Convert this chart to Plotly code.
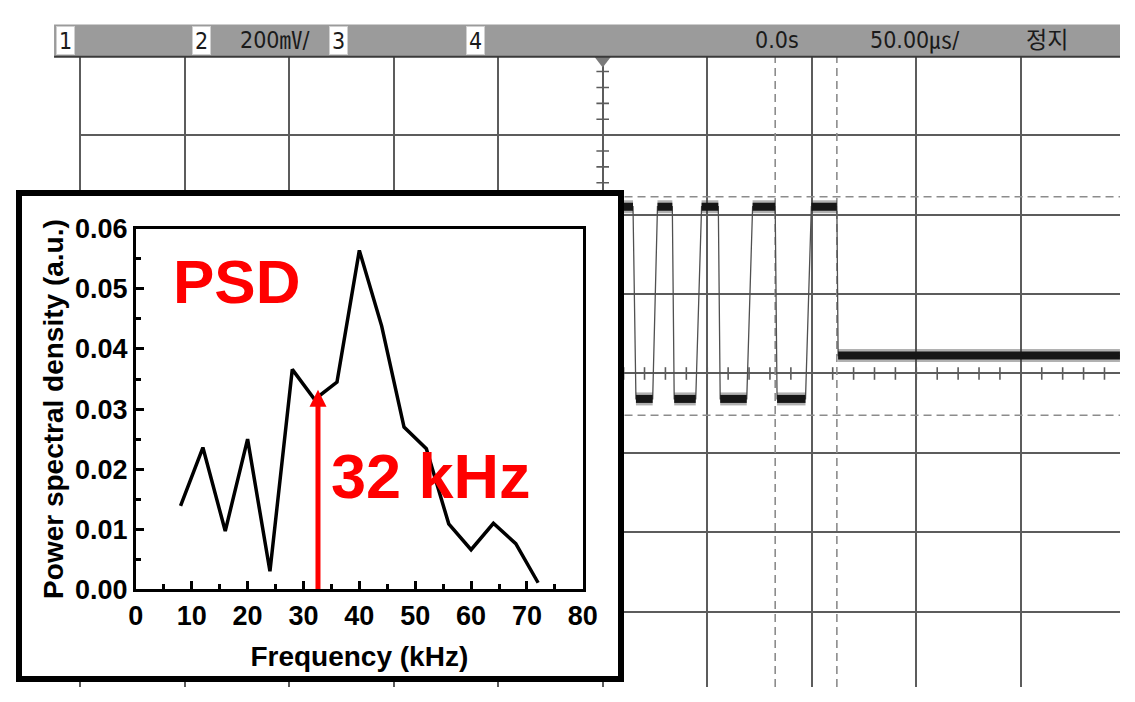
import numpy as np
import plotly.graph_objects as go

W, H = 1135, 702

# ------------------------------------------------------------------ data
# PSD inset
psd_freq_khz = [8, 12, 16, 20, 24, 28, 32, 36, 40, 44, 48, 52, 56, 60, 64, 68, 72]
psd_value = [0.0139, 0.0236, 0.0097, 0.0250, 0.0030, 0.0366, 0.0316, 0.0345,
             0.0564, 0.0438, 0.0270, 0.0234, 0.0109, 0.0066, 0.0110, 0.0076, 0.0011]
peak_freq_khz = 32.6
peak_arrow_top = 0.0332
psd_label = "PSD"
peak_label = "32 kHz"
freq_ticks = [0, 10, 20, 30, 40, 50, 60, 70, 80]
psd_ticks = [0.00, 0.01, 0.02, 0.03, 0.04, 0.05, 0.06]
freq_title = "Frequency (kHz)"
psd_title = "Power spectral density (a.u.)"

# Oscilloscope trace: time from trigger (µs), level (mV)
wave_time_us = [9.0, 14.5, 15.9, 23.9, 26.2, 33.3, 34.2, 44.5, 47.3, 55.3, 56.2,
                68.9, 71.7, 82.5, 83.4, 97.0, 99.8, 112.0, 112.6, 247.4]
wave_level_mv = [420, 420, -64, -64, 420, 420, -64, -64, 420, 420, -64,
                 -64, 420, 420, -64, -64, 420, 420, 45, 45]
cursor_time_us = [82.5, 112.0]
cursor_level_mv = [445, -105]
trigger_time_us = 0.0

header_channels = ["1", "2", "3", "4"]
volt_scale_text = "200㎷/"
time_offset_text = "0.0s"
time_scale_text = "50.00㎲/"
run_state_text = "정지"

# ------------------------------------------------------------------ geometry helpers
def fx(px):
    return px / W


def fy(py):
    return 1 - py / H


US_PER_DIV, MV_PER_DIV = 50.0, 200.0
PX_DIV_X, PX_DIV_Y = 106.7, 83.0
CX, CY = 607.0, 374.5
SCOPE_LEFT_PX, SCOPE_TOP_PX = 72.0, 42.5
t_left = (SCOPE_LEFT_PX - CX) / PX_DIV_X * US_PER_DIV
t_right = (W - CX) / PX_DIV_X * US_PER_DIV
mv_top = (CY - SCOPE_TOP_PX) / PX_DIV_Y * MV_PER_DIV
mv_bottom = (CY - H) / PX_DIV_Y * MV_PER_DIV
mv_per_px = MV_PER_DIV / PX_DIV_Y

GRID = "#5c5c5c"
CURSOR = "#8c8c8c"
RED = "#ff0000"
FONT = "Liberation Sans, Arial, sans-serif"
SCOPE_FONT = "Liberation Sans Narrow, DejaVu Sans Condensed, Noto Sans CJK KR, sans-serif"

fig = go.Figure()

# ------------------------------------------------------------------ scope (x / y)
sc = dict(xaxis="x", yaxis="y", hoverinfo="skip", showlegend=False)

vx, vy = [], []
for t in cursor_time_us:
    vx += [t, t, None]
    vy += [mv_bottom, mv_top, None]
hx, hy = [], []
for v in cursor_level_mv:
    hx += [t_left, t_right, None]
    hy += [v, v, None]
fig.add_trace(go.Scatter(x=vx + hx, y=vy + hy, mode="lines",
                         line=dict(color=CURSOR, width=1.6, dash="8px,5px"), **sc))

# graticule minor ticks on the centre axes (every 1/5 division)
tick_t = np.arange(-250, t_right, US_PER_DIV / 5)
tick_v = np.arange(-MV_PER_DIV * 4 + MV_PER_DIV / 5, mv_top, MV_PER_DIV / 5)
fig.add_trace(go.Scatter(x=tick_t, y=np.zeros_like(tick_t), mode="markers",
                         marker=dict(symbol="line-ns", size=9,
                                     line=dict(color=GRID, width=1.6)), **sc))
fig.add_trace(go.Scatter(x=np.zeros_like(tick_v), y=tick_v, mode="markers",
                         marker=dict(symbol="line-ew", size=9,
                                     line=dict(color=GRID, width=1.6)), **sc))

# waveform: thin edges + noisy thick plateaus
fig.add_trace(go.Scatter(x=wave_time_us, y=wave_level_mv, mode="lines",
                         line=dict(color="#505050", width=1.3), **sc))
px_, py_ = [], []
for i in range(len(wave_time_us) - 1):
    if wave_level_mv[i] == wave_level_mv[i + 1]:
        px_ += [wave_time_us[i], wave_time_us[i + 1], None]
        py_ += [wave_level_mv[i], wave_level_mv[i + 1], None]
fig.add_trace(go.Scatter(x=px_, y=py_, mode="lines",
                         line=dict(color="rgba(60,60,60,0.4)", width=13), **sc))
fig.add_trace(go.Scatter(x=px_, y=py_, mode="lines",
                         line=dict(color="#161616", width=8), **sc))

fig.add_trace(go.Scatter(x=[trigger_time_us], y=[mv_top - 5 * mv_per_px], mode="markers",
                         marker=dict(symbol="triangle-down", size=14, color="#7a7a7a"),
                         cliponaxis=False, **sc))

# ------------------------------------------------------------------ inset white box (x2 / y2)
fig.add_trace(go.Bar(x=[0.5], y=[1], width=[1], marker=dict(color="white", line=dict(width=0)),
                     xaxis="x2", yaxis="y2", hoverinfo="skip", showlegend=False))

# ------------------------------------------------------------------ PSD inset (x3 / y3)
fig.add_trace(go.Scatter(x=psd_freq_khz, y=psd_value, mode="lines",
                         line=dict(color="black", width=3.5),
                         xaxis="x3", yaxis="y3", hoverinfo="skip", showlegend=False))
fig.add_trace(go.Scatter(x=[peak_freq_khz, peak_freq_khz], y=[0, peak_arrow_top - 0.0015],
                         mode="lines", line=dict(color=RED, width=5),
                         xaxis="x3", yaxis="y3", hoverinfo="skip", showlegend=False))
fig.add_trace(go.Scatter(x=[peak_freq_khz], y=[peak_arrow_top], mode="markers",
                         marker=dict(symbol="arrow-up", size=17, color=RED, line=dict(width=0)),
                         xaxis="x3", yaxis="y3", hoverinfo="skip", showlegend=False,
                         cliponaxis=False))

# ------------------------------------------------------------------ layout
scope_ax = dict(showgrid=True, gridcolor=GRID, gridwidth=1.6, zeroline=True,
                zerolinecolor=GRID, zerolinewidth=1.6, showticklabels=False,
                ticks="", showline=False, fixedrange=True)
box_ax = dict(range=[0, 1], showline=True, mirror=True, linewidth=6, linecolor="black",
              showgrid=False, zeroline=False, showticklabels=False, ticks="")
tickfont = dict(family=FONT, size=27, color="black", weight="bold")
inset_ax = dict(showline=True, mirror=True, linewidth=3, linecolor="black",
                showgrid=False, zeroline=False, ticks="inside", ticklen=8,
                tickwidth=2.5, tickcolor="black", tickfont=tickfont)

fig.update_layout(
    autosize=True,
    margin=dict(l=0, r=0, t=0, b=0, pad=0),
    paper_bgcolor="white", plot_bgcolor="white",
    showlegend=False,
    xaxis=dict(domain=[fx(SCOPE_LEFT_PX), 1], range=[t_left, t_right],
               tick0=0, dtick=US_PER_DIV, **scope_ax),
    yaxis=dict(domain=[0, fy(SCOPE_TOP_PX)], range=[mv_bottom, mv_top],
               tick0=0, dtick=MV_PER_DIV, **scope_ax),
    xaxis2=dict(domain=[fx(14), fx(623)], anchor="y2", **box_ax),
    yaxis2=dict(domain=[fy(691), fy(189)], anchor="x2", **box_ax),
    xaxis3=dict(domain=[fx(130.5), fx(586.7)], anchor="y3", range=[0, 80],
                tickvals=freq_ticks, ticktext=[str(v) for v in freq_ticks],
                minor=dict(dtick=5, tick0=0, ticks="inside", ticklen=5,
                           tickwidth=2.5, tickcolor="black"),
                title=dict(text=freq_title, standoff=17,
                           font=dict(family=FONT, size=28, color="black", weight="bold")),
                **inset_ax),
    yaxis3=dict(domain=[fy(600), fy(223.3)], anchor="x3", range=[0, 0.06],
                tickvals=psd_ticks, ticktext=[f"{v:.2f}" for v in psd_ticks],
                minor=dict(dtick=0.005, tick0=0, ticks="inside", ticklen=5,
                           tickwidth=2.5, tickcolor="black"),
                title=dict(text=psd_title, standoff=4,
                           font=dict(family=FONT, size=28, color="black", weight="bold")),
                **inset_ax),
)

fig.add_shape(type="rect", xref="paper", yref="paper", x0=fx(47), x1=1,
              y0=fy(43), y1=fy(10), fillcolor="#9b9b9b", line=dict(width=0), layer="above")
fig.add_shape(type="line", xref="paper", yref="paper", x0=fx(47), x1=1,
              y0=fy(43.5), y1=fy(43.5), line=dict(color="#3a3a3a", width=2), layer="above")

hdr_font = dict(family=SCOPE_FONT, size=23, color="#1a1a1a")
for label, cxp in zip(header_channels, [58.5, 197.5, 337.5, 477.5]):
    fig.add_annotation(xref="paper", yref="paper", x=fx(cxp), y=fy(26.5),
                       text=label, showarrow=False, font=hdr_font,
                       bgcolor="white", bordercolor="#d0d0d0", borderwidth=1,
                       borderpad=1, width=15, height=25, xanchor="center", yanchor="middle")
for txt, lx in [(volt_scale_text, 235), (time_offset_text, 760),
                (time_scale_text, 878), (run_state_text, 1037)]:
    fig.add_annotation(xref="paper", yref="paper", x=fx(lx), y=fy(26.5), text=txt,
                       showarrow=False, font=hdr_font, xanchor="left", yanchor="middle")

fig.add_annotation(xref="paper", yref="paper", x=fx(166), y=fy(278),
                   text=f"<b>{psd_label}</b>", showarrow=False,
                   font=dict(family=FONT, size=62, color=RED),
                   xanchor="left", yanchor="middle")
fig.add_annotation(xref="paper", yref="paper", x=fx(432), y=fy(482),
                   text=f"<b>{peak_label}</b>", showarrow=False,
                   font=dict(family=FONT, size=63, color=RED),
                   xanchor="center", yanchor="middle")

fig.write_html(
    "out.html",
    config={"displayModeBar": False, "responsive": True},
    default_width="100vw",
    default_height="100vh",
    post_script="document.documentElement.style.margin='0';"
                "document.body.style.margin='0';document.body.style.padding='0';"
                "document.documentElement.style.overflow='hidden';"
                "document.body.style.overflow='hidden';"
                "window.dispatchEvent(new Event('resize'));",
)
